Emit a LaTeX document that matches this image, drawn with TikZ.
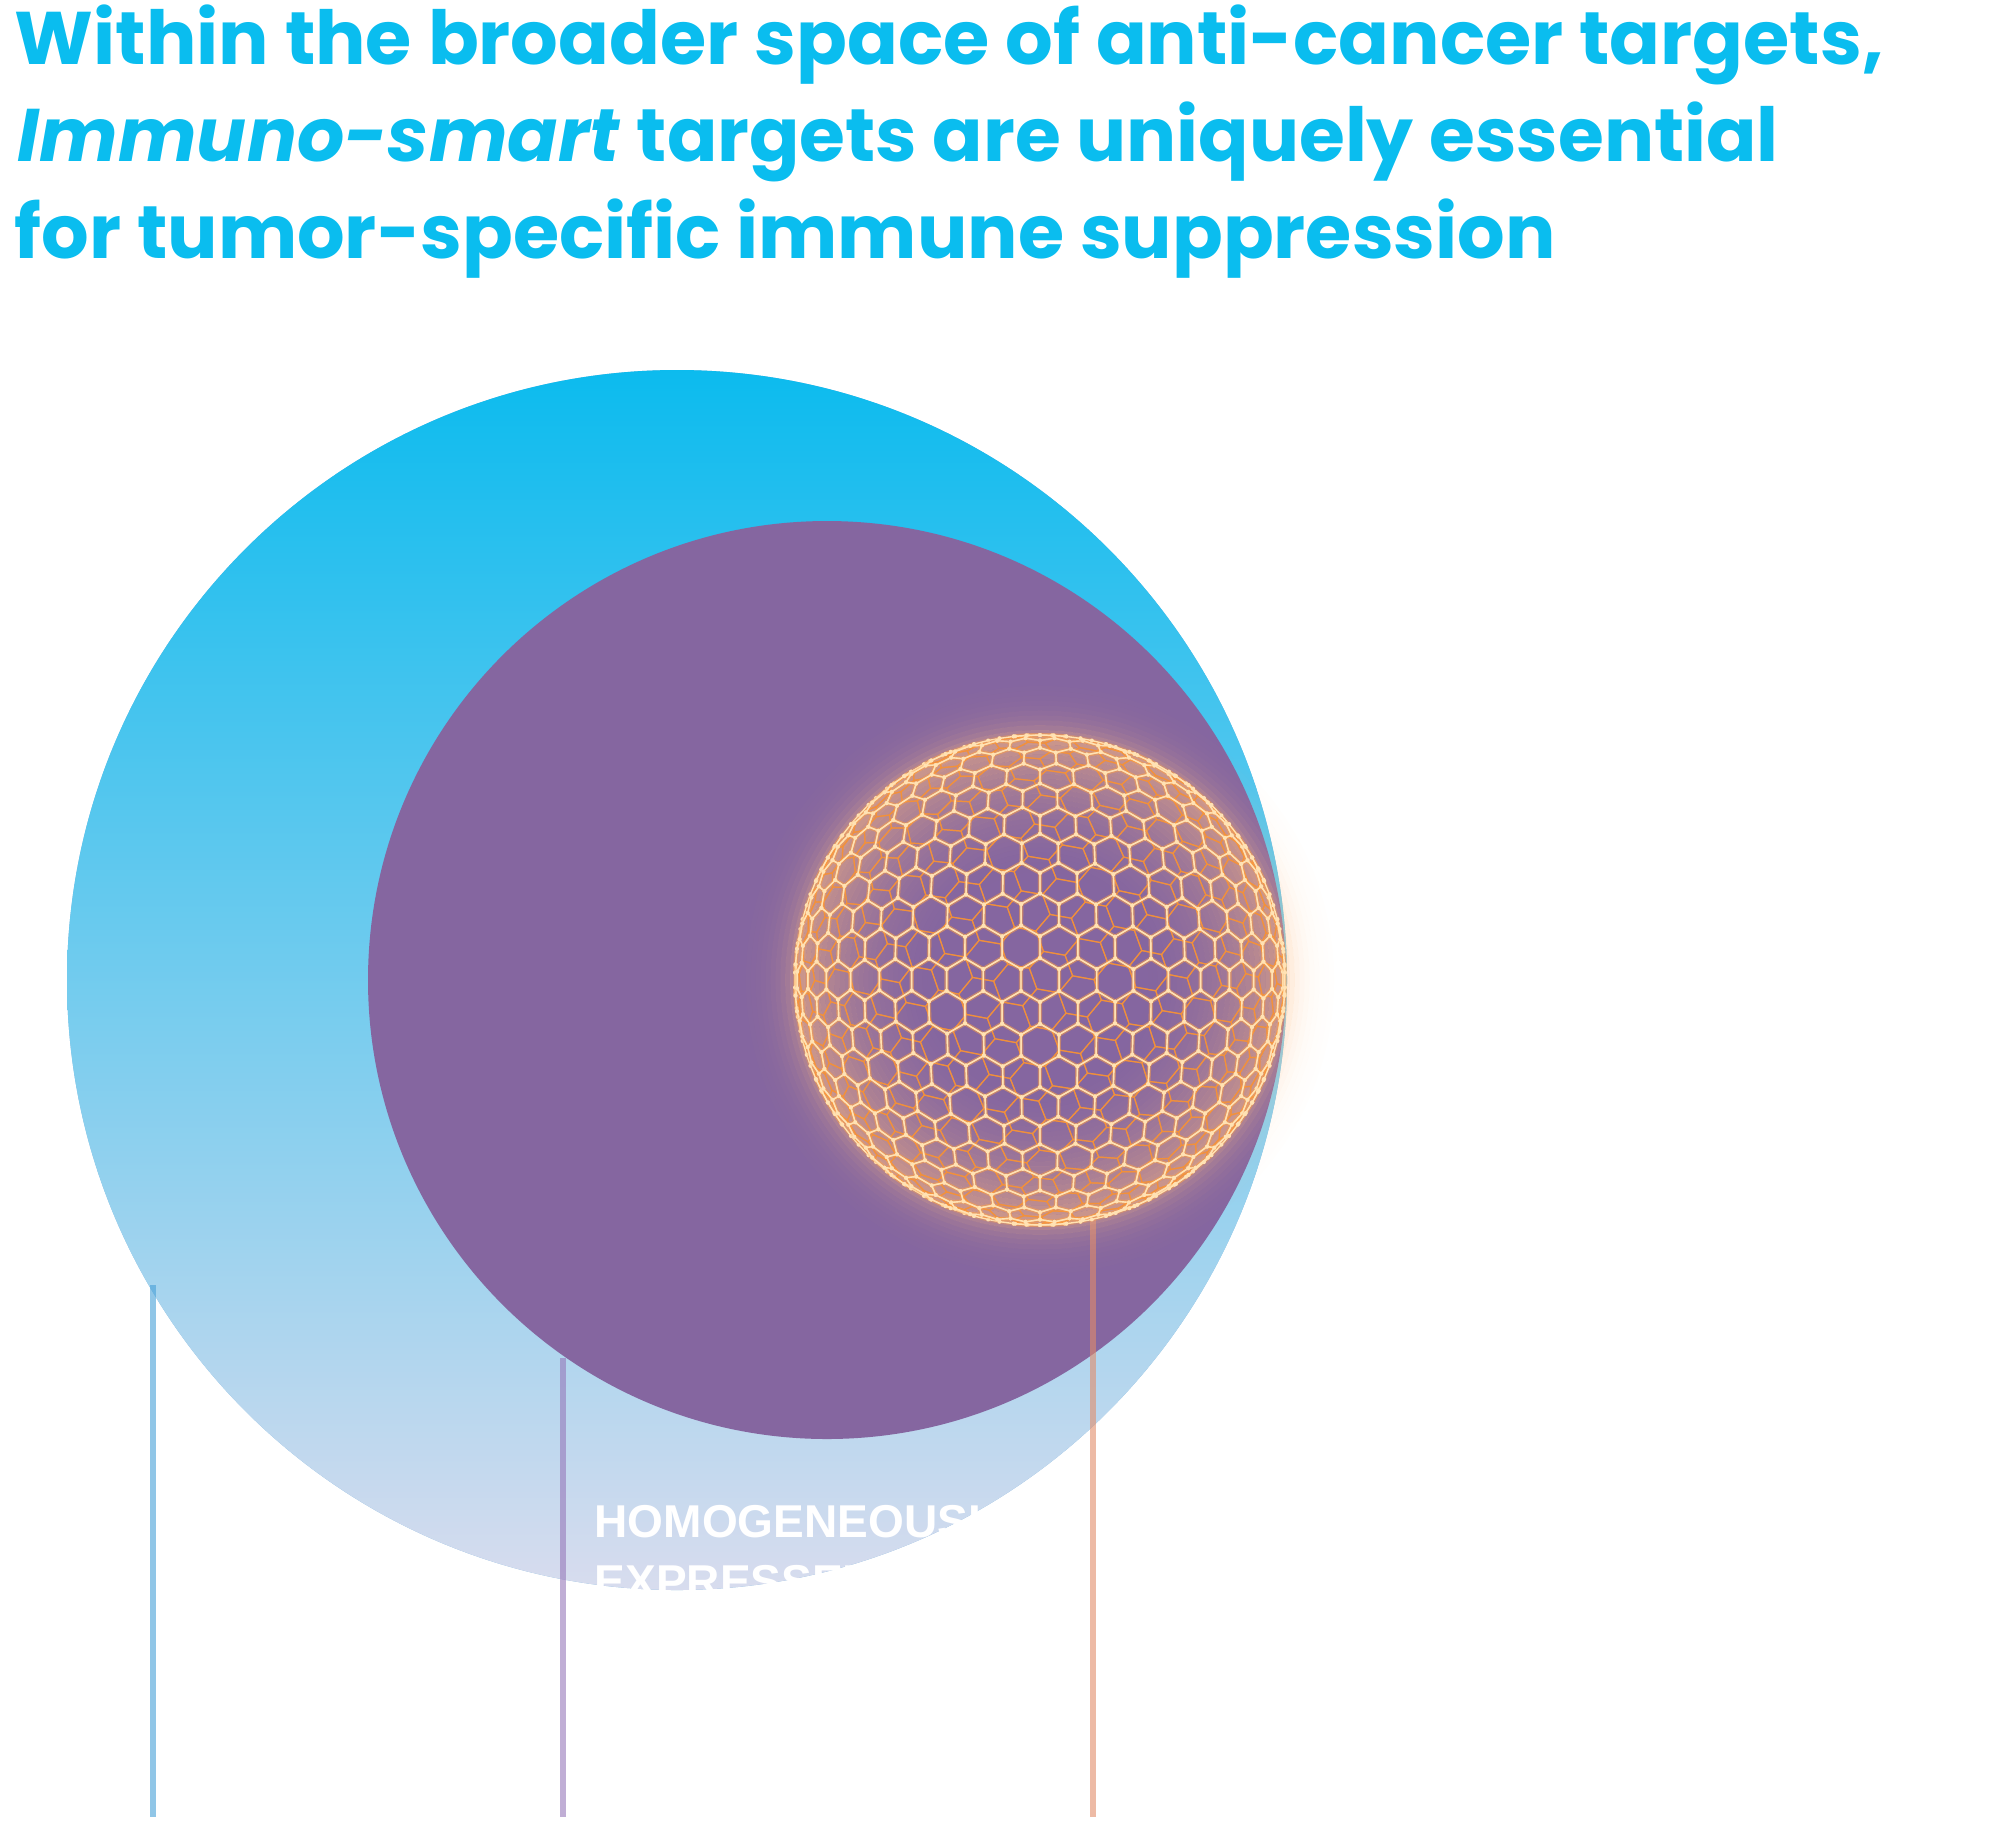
\documentclass[tikz,border=0pt]{standalone}
\usepackage{fontspec}
\usepackage{xcolor}
\usepackage{graphicx}
\usepackage{tikz}
\usetikzlibrary{calc}

\newfontfamily\titlefont{Poppins}
\newfontfamily\labelfont{Liberation Sans}

\definecolor{titlecyan}{RGB}{10,189,239}
\definecolor{outertop}{RGB}{12,187,238}
\definecolor{outermid}{RGB}{130,182,221}
\definecolor{outerbot}{RGB}{216,220,238}
\definecolor{innerpurple}{RGB}{133,102,160}
\definecolor{glowpeach}{RGB}{255,186,125}
\definecolor{meshcore}{RGB}{255,226,180}
\definecolor{meshglow}{RGB}{255,160,70}
\definecolor{meshback}{RGB}{245,145,55}
\definecolor{leadblue}{RGB}{70,160,215}
\definecolor{leadpurple}{RGB}{150,120,185}
\definecolor{leadorange}{RGB}{225,140,105}

\tikzset{
  leader/.style={line width=1.75pt, opacity=0.6},
  titleline/.style={anchor=base west, inner sep=0pt, text=titlecyan,
    font=\titlefont\bfseries\fontsize{21.2}{26}\selectfont},
  setlabel/.style={anchor=base west, inner sep=0pt, text=white,
    font=\labelfont\bfseries\fontsize{13.1}{16}\selectfont},
  meshfront/.style={meshcore, line width=0.4pt, line join=round},
  meshhalo/.style={meshglow, line width=1.2pt, opacity=0.3, line join=round},
  meshrear/.style={meshback, line width=0.35pt, opacity=0.8, line join=round},
}

% sphere centre, radius and hexagon size (cm)
\def\sphX{10.40}
\def\sphY{-9.80}
\def\sphR{2.45}
\def\hexA{0.22}

% map a point of the flat hex grid onto the sphere seen from the front
\newcommand\sphmap[2]{%
  \pgfmathsetmacro\mapr{max(sqrt((#1)*(#1)+(#2)*(#2)),0.0001)}%
  \pgfmathsetmacro\mapk{ifthenelse(\mapr<1.4142*\sphR, sqrt(max(1-\mapr*\mapr/(4*\sphR*\sphR),0.5)), \sphR/\mapr)}%
  \pgfmathsetmacro\mapx{\sphX+\mapk*(#1)}%
  \pgfmathsetmacro\mapy{\sphY+\mapk*(#2)}%
}

\begin{document}
\begin{tikzpicture}
            \useasboundingbox (0,0) rectangle (20,-18.23);

            % Draw the title
            \node[titleline] (title1) at (0.14,-0.64)
              {\resizebox{18.69cm}{\height}{Within the broader space of anti-cancer targets,}};
            \node[titleline] (title2) at (0.17,-1.61)
              {\resizebox{17.61cm}{\height}{\textit{Immuno-smart} targets are uniquely essential}};
            \node[titleline] (title3) at (0.14,-2.58)
              {\resizebox{15.41cm}{\height}{for tumor-specific immune suppression}};

            % Draw the two circles
            \fill[outermid] (6.77,-9.80) circle (6.10);
            \shade[top color=outertop, middle color=outermid, bottom color=outerbot]
              (6.77,-9.80) circle (6.10);
            \fill[innerpurple] (8.27,-9.80) circle (4.59);

            % Draw the leader lines
            \coordinate (blue top) at (1.53,-12.85);
            \coordinate (blue end) at (1.53,-18.17);
            \coordinate (purple top) at (5.63,-13.58);
            \coordinate (purple end) at (5.63,-18.17);
            \coordinate (orange top) at (10.93,-12.20);
            \coordinate (orange end) at (10.93,-18.17);
            \draw[leader, leadblue] (blue top) -- (blue end);
            \draw[leader, leadpurple] (purple top) -- (purple end);
            \draw[leader, leadorange] (orange top) -- (orange end);

            % Draw the glow of the sphere
            \coordinate (sph) at (\sphX,\sphY);
            \foreach \g in {0,...,39} {
              \pgfmathsetmacro\ra{\sphR*(0.40+\g*0.02)}
              \pgfmathsetmacro\rb{\sphR*(0.42+\g*0.02)}
              \pgfmathsetmacro\gr{0.41+\g*0.02}
              \pgfmathsetmacro\op{ifthenelse(\gr<1, 0.62*((\gr-0.4)/0.6)^2, 0.4*exp(-max(\gr-1,0)/0.06))}
              \fill[glowpeach, opacity=\op, even odd rule] (sph) circle (\ra) circle (\rb);
            }

            % Draw the back of the mesh
            \foreach \i in {-17,...,17} {
              \foreach \j in {-13,...,13} {
                \pgfmathsetmacro\cu{0.94*0.3811*(\i+0.5*\j)-0.342*0.33*\j+0.11}
                \pgfmathsetmacro\cv{0.342*0.3811*(\i+0.5*\j)+0.94*0.33*\j+0.08}
                \pgfmathtruncatemacro\keep{(\cu*\cu+\cv*\cv)<13.4 ? 1 : 0}
                \ifnum\keep=1
                  \foreach \k in {0,...,5} {
                    \pgfmathsetmacro\vu{\cu+\hexA*cos(50+60*\k)}
                    \pgfmathsetmacro\vv{\cv+\hexA*sin(50+60*\k)}
                    \sphmap{\vu}{\vv}
                    \coordinate (hv\k) at (\mapx,\mapy);
                  }
                  \draw[meshrear] (hv0) -- (hv1) -- (hv2) -- (hv3) -- (hv4) -- (hv5) -- cycle;
                \fi
              }
            }

            % Draw the front of the mesh
            \foreach \i in {-17,...,17} {
              \foreach \j in {-13,...,13} {
                \pgfmathsetmacro\cu{0.3811*(\i+0.5*\j)}
                \pgfmathsetmacro\cv{0.33*\j}
                \pgfmathtruncatemacro\keep{(\cu*\cu+\cv*\cv)<13.4 ? 1 : 0}
                \ifnum\keep=1
                  \foreach \k in {0,...,5} {
                    \pgfmathsetmacro\vu{\cu+\hexA*cos(30+60*\k)}
                    \pgfmathsetmacro\vv{\cv+\hexA*sin(30+60*\k)}
                    \sphmap{\vu}{\vv}
                    \coordinate (hv\k) at (\mapx,\mapy);
                  }
                  \draw[meshhalo] (hv0) -- (hv1) -- (hv2) -- (hv3) -- (hv4) -- (hv5) -- cycle;
                  \draw[meshfront] (hv0) -- (hv1) -- (hv2) -- (hv3) -- (hv4) -- (hv5) -- cycle;
                  \foreach \k in {0,...,5} \fill[meshcore] (hv\k) circle (0.02);
                \fi
              }
            }

            % Draw the label of the inner circle
            \node[setlabel] (homog) at (5.94,-15.37) {HOMOGENEOUSLY};
            \node[setlabel] (expr) at ([yshift=-0.60cm]homog.base west) {EXPRESSED};

        \end{tikzpicture}
\end{document}
